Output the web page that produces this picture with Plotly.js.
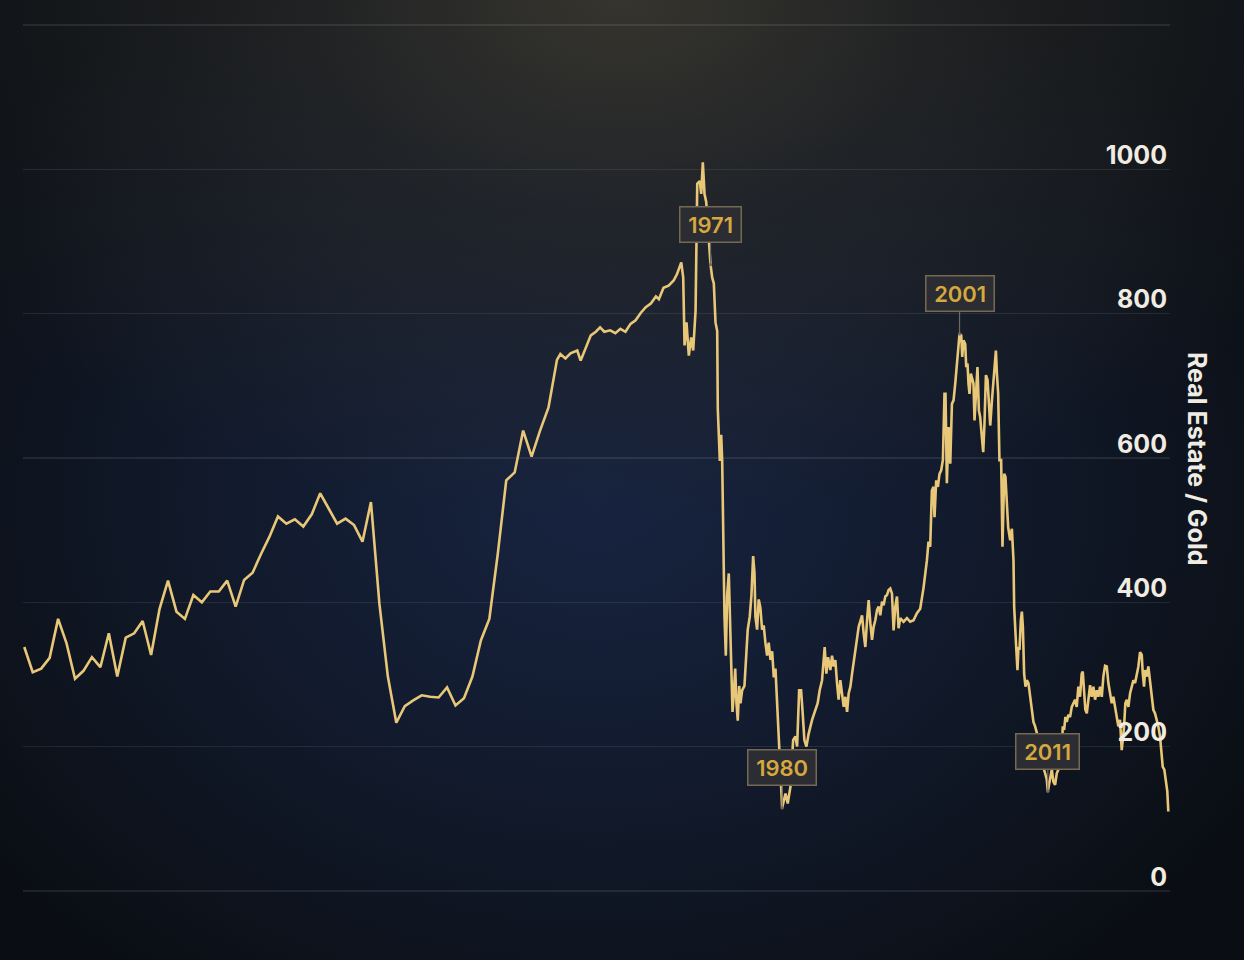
<!DOCTYPE html>
<html>
<head>
<meta charset="utf-8">
<script src="https://cdn.plot.ly/plotly-3.0.1.min.js"></script>
<style>
    html, body { margin: 0; padding: 0; width: 1244px; height: 960px; overflow: hidden; }
    body {
        background:
            radial-gradient(ellipse 820px 520px at 50% 0%, rgba(56, 54, 47, 0.95) 0%, rgba(44, 44, 41, 0.6) 40%, rgba(30, 32, 36, 0) 100%),
            radial-gradient(ellipse 760px 600px at 48% 52%, #172340 0%, #121b2e 45%, #0d121b 85%, #0a0e14 100%);
    }
    #chart { width: 1244px; height: 960px; }
</style>
</head>
<body>
<div id="chart"></div>
<script>
// Annual readings, 1890-1953
var annualYears = [
    1890, 1891, 1892, 1893, 1894, 1895, 1896, 1897, 1898, 1899,
    1900, 1901, 1902, 1903, 1904, 1905, 1906, 1907, 1908, 1909,
    1910, 1911, 1912, 1913, 1914, 1915, 1916, 1917, 1918, 1919,
    1920, 1921, 1922, 1923, 1924, 1925, 1926, 1927, 1928, 1929,
    1930, 1931, 1932, 1933, 1934, 1935, 1936, 1937, 1938, 1939,
    1940, 1941, 1942, 1943, 1944, 1945, 1946, 1947, 1948, 1949,
    1950, 1951, 1952, 1953
];
var annualRatio = [
    338, 303, 308, 323, 377, 343, 294, 305, 324, 310,
    357, 297, 351, 357, 374, 327, 391, 430, 387, 377,
    410, 400, 415, 415, 430, 394, 431, 441, 467, 491,
    519, 509, 515, 505, 522, 551, 530, 509, 516, 507,
    484, 539, 398, 297, 233, 256, 264, 271, 269, 268,
    282, 257, 267, 297, 347, 377, 467, 569, 580, 638,
    602, 638, 670, 736
];

// Monthly-ish readings after 1953 (decimal year)
var monthlyYears = [
    1953.4, 1954.0, 1954.6, 1955.4, 1955.8, 1956.4, 1957.0, 1957.6, 1958.1, 1958.6,
    1959.3, 1959.9, 1960.5, 1961.1, 1961.7, 1962.3, 1962.9, 1963.5, 1964.1, 1964.7,
    1965.05, 1965.6, 1966.2, 1966.8, 1967.2, 1967.7, 1967.93, 1968.09, 1968.32, 1968.59,
    1968.88, 1969.11, 1969.39, 1969.59, 1969.89, 1970.06, 1970.25, 1970.45, 1970.65, 1970.86,
    1971.16, 1971.36, 1971.55, 1971.75, 1971.95, 1972.02, 1972.14, 1972.26, 1972.42, 1972.54,
    1972.66, 1972.81, 1972.97, 1973.13, 1973.32, 1973.44, 1973.6, 1973.76, 1973.91, 1974.08,
    1974.23, 1974.38, 1974.55, 1974.7, 1974.9, 1975.17, 1975.41, 1975.56, 1975.8, 1976.0,
    1976.2, 1976.36, 1976.47, 1976.67, 1976.86, 1977.06, 1977.26, 1977.45, 1977.65, 1977.85,
    1978.04, 1978.25, 1978.45, 1978.64, 1978.84, 1979.04, 1979.22, 1979.34, 1979.51, 1979.63,
    1980.03, 1980.29, 1980.61, 1980.93, 1981.2, 1981.4, 1981.64, 1981.87, 1982.06, 1982.26,
    1982.5, 1982.77, 1983.17, 1983.56, 1983.83, 1984.07, 1984.35, 1984.54, 1984.66, 1984.86,
    1985.06, 1985.33, 1985.53, 1985.72, 1985.92, 1986.12, 1986.31, 1986.51, 1986.72, 1986.91,
    1987.11, 1987.31, 1987.5, 1987.7, 1987.9, 1988.09, 1988.29, 1988.49, 1988.68, 1988.88,
    1989.08, 1989.27, 1989.47, 1989.67, 1989.86, 1990.06, 1990.26, 1990.45, 1990.65, 1990.85,
    1991.04, 1991.24, 1991.44, 1991.63, 1991.83, 1992.03, 1992.22, 1992.42, 1992.62, 1992.81,
    1993.01, 1993.21, 1993.4, 1993.6, 1993.99, 1994.39, 1994.78, 1995.17, 1995.57, 1995.96,
    1996.35, 1996.75, 1996.94, 1997.14, 1997.34, 1997.53, 1997.65, 1997.85, 1998.05, 1998.24,
    1998.44, 1998.64, 1998.83, 1998.95, 1999.11, 1999.31, 1999.51, 1999.71, 1999.9, 2000.1,
    2000.3, 2000.49, 2000.61, 2000.81, 2000.93, 2001.08, 2001.28, 2001.4, 2001.55, 2001.67,
    2001.79, 2001.95, 2002.07, 2002.26, 2002.38, 2002.58, 2002.73, 2002.9, 2003.05, 2003.21,
    2003.41, 2003.56, 2003.73, 2003.92, 2004.08, 2004.24, 2004.44, 2004.55, 2004.71, 2004.91,
    2005.03, 2005.18, 2005.33, 2005.53, 2005.69, 2005.89, 2006.04, 2006.21, 2006.36, 2006.6,
    2006.8, 2006.99, 2007.07, 2007.31, 2007.46, 2007.58, 2007.7, 2007.86, 2007.98, 2008.1,
    2008.17, 2008.25, 2008.41, 2008.57, 2008.76, 2008.96, 2009.16, 2009.35, 2009.55, 2009.91,
    2010.26, 2010.5, 2010.73, 2010.93, 2011.05, 2011.33, 2011.52, 2011.71, 2011.91, 2012.11,
    2012.3, 2012.5, 2012.7, 2012.82, 2012.98, 2013.13, 2013.29, 2013.48, 2013.68, 2013.88,
    2014.07, 2014.27, 2014.47, 2014.66, 2014.86, 2015.06, 2015.18, 2015.34, 2015.49, 2015.66,
    2015.85, 2016.05, 2016.25, 2016.44, 2016.64, 2016.84, 2017.03, 2017.23, 2017.43, 2017.62,
    2017.82, 2018.02, 2018.21, 2018.41, 2018.61, 2018.8, 2019.0, 2019.2, 2019.39, 2019.59,
    2019.79, 2019.91, 2020.07, 2020.22, 2020.39, 2020.58, 2020.78, 2020.98, 2021.17, 2021.37,
    2021.57, 2021.76, 2021.96, 2022.16, 2022.28, 2022.43, 2022.55, 2022.75, 2022.94, 2023.14,
    2023.34, 2023.53, 2023.73, 2023.93, 2024.12, 2024.32, 2024.52, 2024.64, 2024.83, 2025.07,
    2025.18, 2025.3
];
var monthlyRatio = [
    744, 738, 745, 749, 735, 754, 770, 775, 781, 775,
    777, 773, 779, 775, 786, 791, 801, 809, 814, 824,
    820, 836, 839, 846, 855, 871, 850, 756, 788, 742,
    767, 749, 804, 980, 984, 966, 1010, 966, 955, 920,
    868, 850, 842, 788, 776, 668, 626, 596, 632, 596,
    500, 380, 326, 410, 440, 380, 290, 248, 272, 308,
    260, 236, 284, 260, 278, 284, 332, 362, 380, 410,
    464, 440, 380, 362, 404, 392, 362, 368, 344, 326,
    344, 320, 332, 296, 308, 260, 224, 188, 146, 115,
    135, 121, 144, 209, 214, 200, 278, 278, 246, 209,
    200, 218, 237, 251, 260, 278, 292, 320, 338, 301,
    324, 306, 326, 311, 320, 288, 265, 292, 274, 255,
    269, 248, 274, 283, 301, 315, 329, 350, 366, 375,
    382, 357, 338, 375, 403, 371, 348, 366, 375, 389,
    394, 382, 401, 396, 408, 410, 417, 419, 412, 361,
    394, 408, 364, 378, 373, 378, 373, 375, 385, 391,
    420, 458, 484, 477, 555, 560, 518, 569, 560, 578,
    583, 597, 689, 689, 565, 643, 592, 675, 680, 703,
    735, 758, 772, 770, 740, 763, 758, 726, 731, 703,
    689, 717, 712, 703, 652, 689, 726, 666, 657, 634,
    608, 648, 715, 708, 675, 645, 680, 698, 717, 749,
    717, 689, 597, 597, 477, 578, 574, 523, 504, 486,
    502, 458, 394, 338, 306, 338, 334, 375, 387, 366,
    334, 301, 283, 292, 288, 269, 251, 234, 228, 212,
    190, 172, 163, 154, 138, 154, 168, 151, 147, 163,
    168, 179, 191, 228, 223, 241, 234, 244, 241, 255,
    260, 265, 255, 283, 269, 301, 304, 269, 251, 246,
    265, 285, 269, 283, 265, 278, 269, 283, 269, 297,
    312, 311, 288, 274, 260, 269, 255, 246, 228, 237,
    195, 209, 228, 260, 265, 255, 274, 283, 292, 288,
    301, 311, 331, 327, 301, 283, 306, 297, 311, 288,
    269, 251, 246, 237, 228, 214, 191, 172, 168, 145,
    138, 110
];

// Labelled turning points
var markLabels = ["1971", "1980", "2001", "2011"];
var markYears = [1971.16, 1979.63, 2000.61, 2011.05];
var markRatio = [868, 115, 772, 138];

var yTicks = [0, 200, 400, 600, 800, 1000, 1200];
var yTickText = ["0", "200", "400", "600", "800", "1000", ""];

var gold = "#e8c778";
var labelColor = "#f1ece2";
var fontFamily = "Inter, 'Noto Sans', sans-serif";

var trace = {
    type: "scatter",
    mode: "lines",
    x: annualYears.concat(monthlyYears),
    y: annualRatio.concat(monthlyRatio),
    line: { color: gold, width: 2.6 },
    hoverinfo: "skip"
};

var annotations = markLabels.map(function (label, i) {
    return {
        x: markYears[i],
        y: markRatio[i],
        xref: "x",
        yref: "y",
        // thin spaces widen the box sideways only
        text: "\u2009" + label + "\u2009",
        showarrow: true,
        arrowhead: 6,
        arrowsize: 0.7,
        arrowwidth: 1.2,
        arrowcolor: "#6f6b63",
        ax: 0,
        ay: -40,
        font: { family: fontFamily, size: 22, color: "#d6a83f", weight: 600 },
        bgcolor: "#2b2d32",
        bordercolor: "#746a53",
        borderwidth: 1.5,
        borderpad: 4
    };
});

annotations.push({
    xref: "paper",
    yref: "paper",
    x: 1,
    y: 0.5,
    xshift: 27,
    xanchor: "center",
    yanchor: "middle",
    showarrow: false,
    textangle: 90,
    text: "Real Estate / Gold",
    font: { family: fontFamily, size: 25, color: labelColor, weight: 700 }
});

var layout = {
    width: 1244,
    height: 960,
    margin: { l: 23, r: 74, t: 23, b: 67 },
    paper_bgcolor: "rgba(0,0,0,0)",
    plot_bgcolor: "rgba(0,0,0,0)",
    showlegend: false,
    xaxis: {
        range: [1889.85, 2025.5],
        showgrid: false,
        zeroline: false,
        showline: false,
        showticklabels: false,
        ticks: ""
    },
    yaxis: {
        side: "right",
        range: [-3, 1203],
        tickvals: yTicks,
        ticktext: yTickText,
        ticklabelposition: "inside",
        ticklabelshift: -14,
        ticklabelstandoff: 0,
        showgrid: true,
        gridcolor: "rgba(255,255,255,0.085)",
        gridwidth: 1.4,
        zeroline: false,
        showline: false,
        ticks: "",
        tickfont: { family: fontFamily, size: 25, color: labelColor, weight: 700 }
    },
    annotations: annotations
};

Plotly.newPlot("chart", [trace], layout, { displayModeBar: false, staticPlot: true });
</script>
</body>
</html>
